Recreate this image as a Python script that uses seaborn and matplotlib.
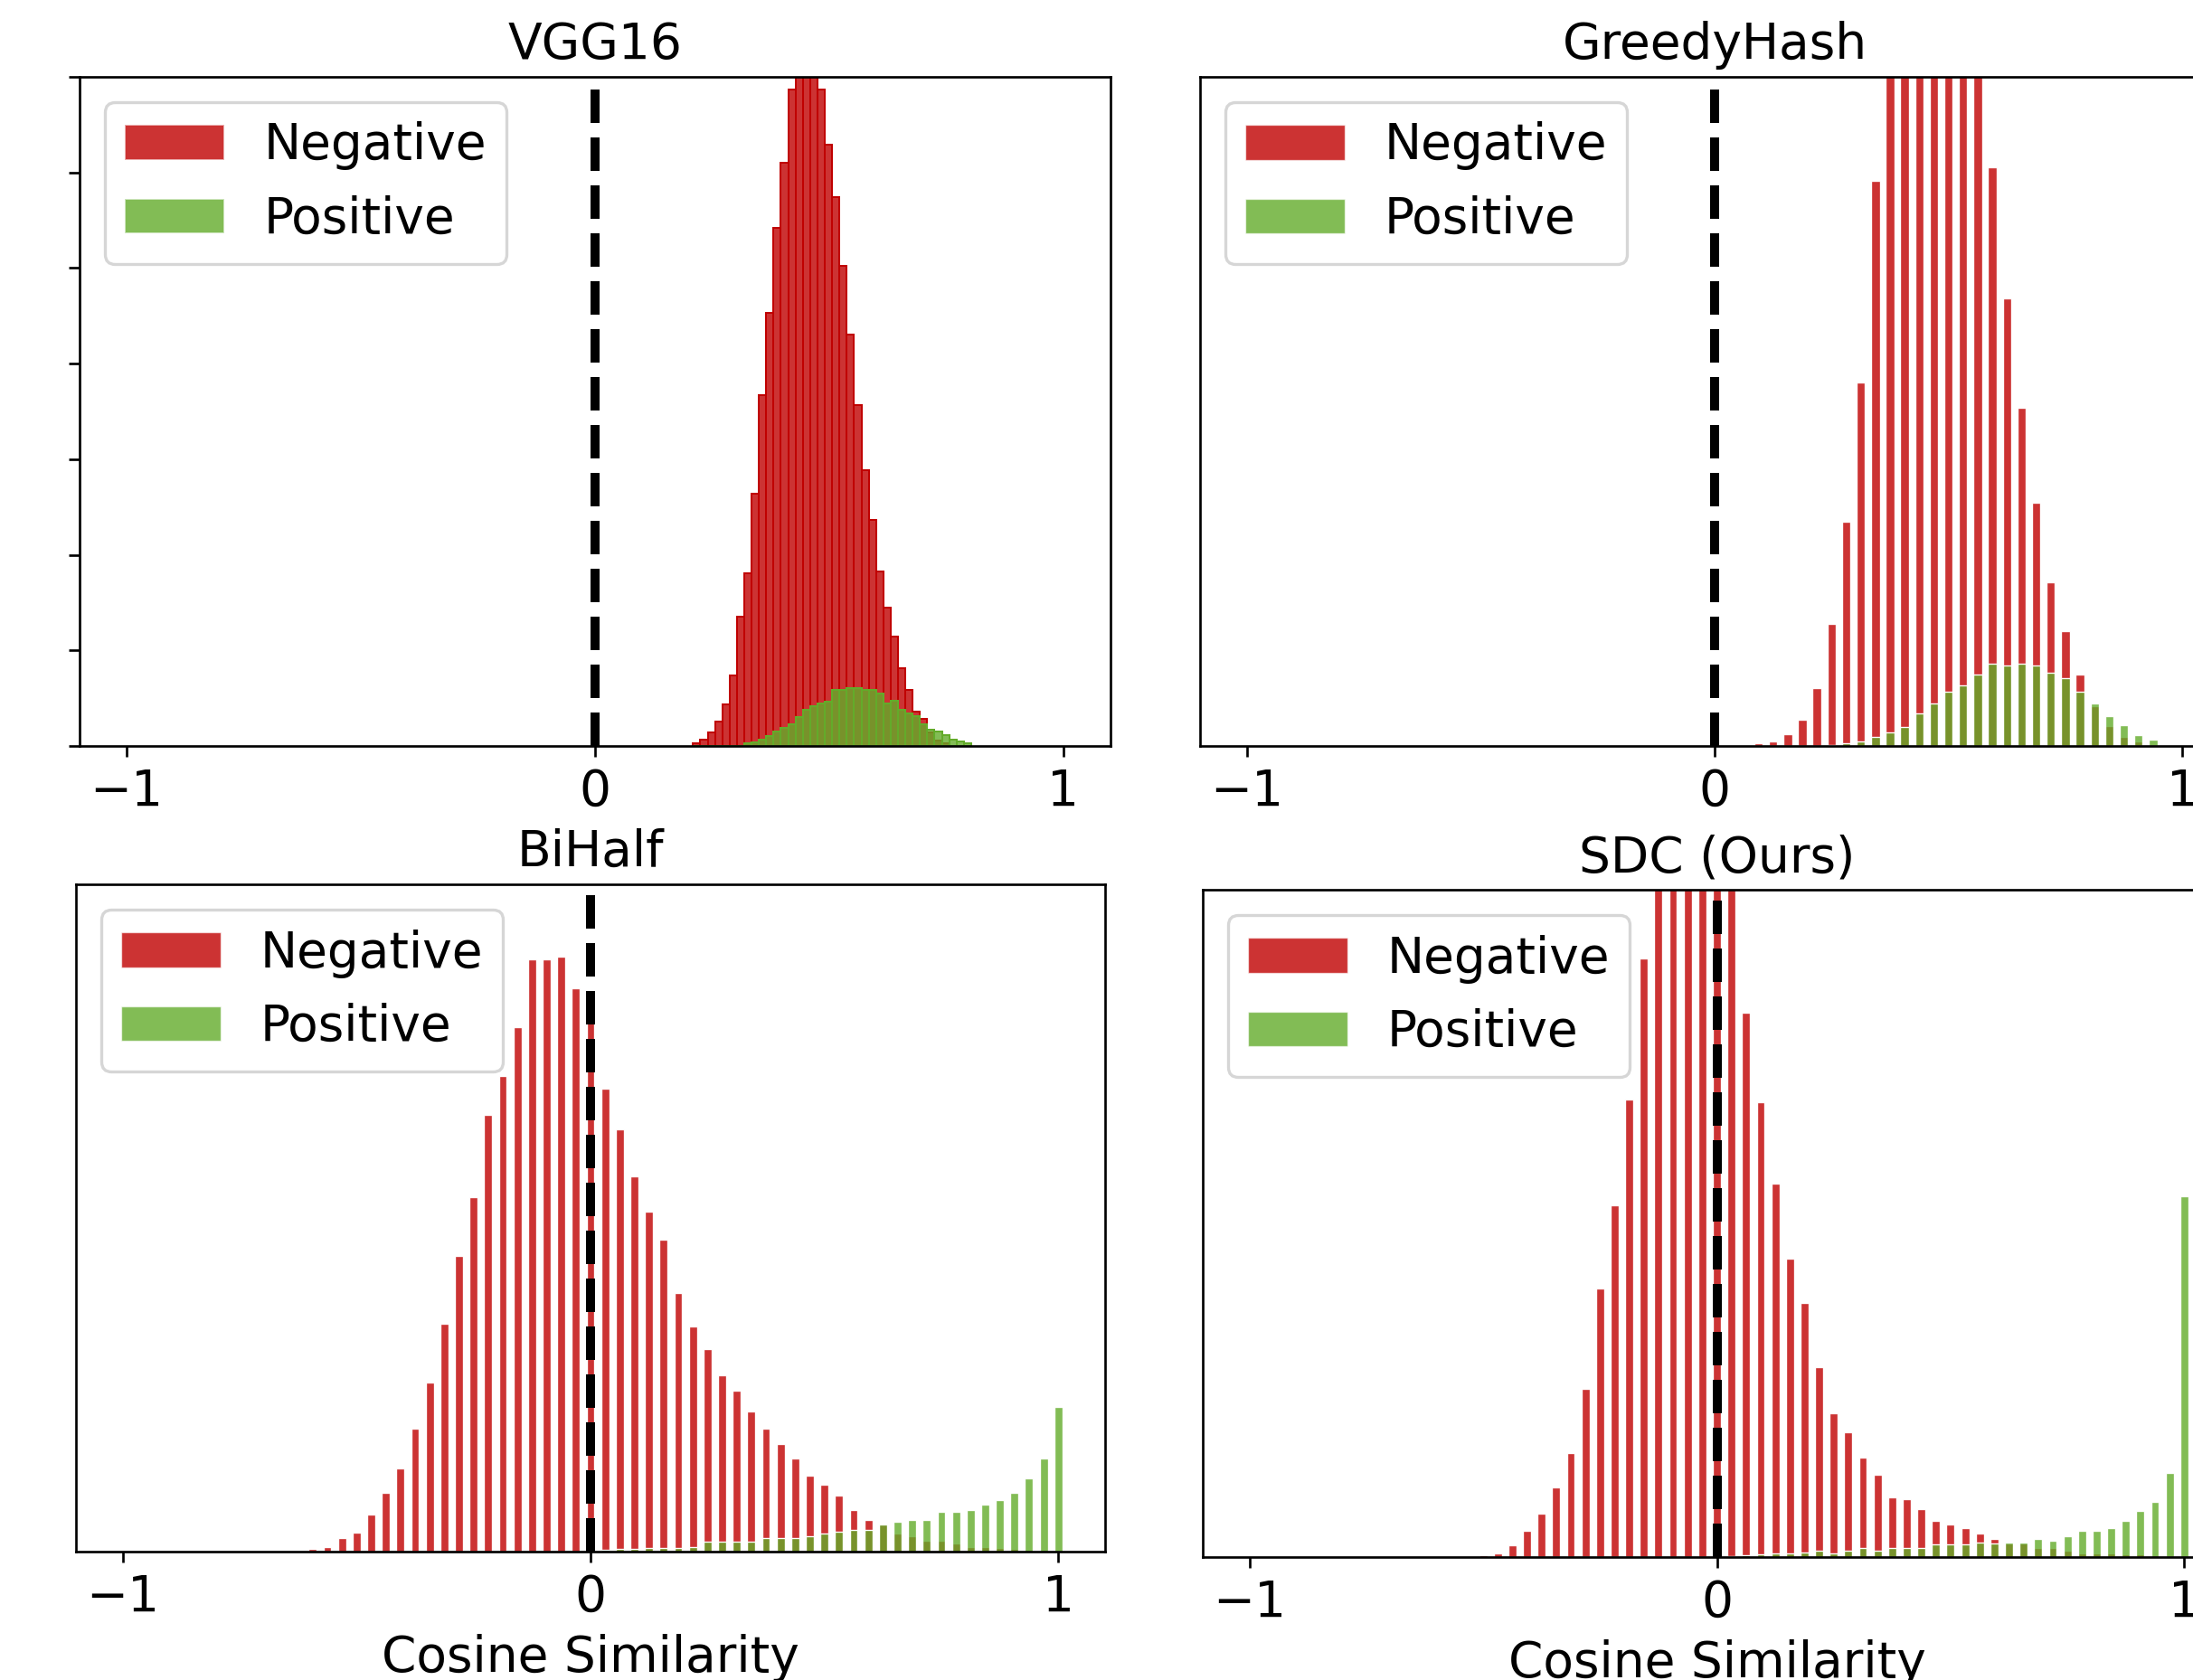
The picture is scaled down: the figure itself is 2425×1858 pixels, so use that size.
import numpy as np
import pandas as pd
import matplotlib.pyplot as plt
import seaborn as sns

W, H, DPI = 2425, 1858, 240
plt.rcParams['font.family'] = ['DejaVu Sans']
plt.rcParams['font.size'] = 16.5

NEG_COLOR = '#c00000'
POS_COLOR = '#63ab2a'

# VGG16: real valued features, histogram bins of width 1/64
vgg_start = 0.2097
vgg_width = 1 / 64
vgg_neg = [0.004, 0.010, 0.020, 0.036, 0.062, 0.106, 0.193, 0.258, 0.377, 0.524,
           0.647, 0.775, 0.872, 0.981, 1.06, 1.10, 1.05, 0.981, 0.898, 0.820,
           0.718, 0.615, 0.509, 0.412, 0.338, 0.261, 0.207, 0.164, 0.116, 0.084,
           0.051, 0.040, 0.020, 0.008, 0.004, 0.0, 0.0, 0.0]
vgg_pos = [0.0, 0.0, 0.0, 0.0, 0.0, 0.0, 0.0, 0.004, 0.006, 0.009,
           0.015, 0.022, 0.027, 0.033, 0.043, 0.054, 0.060, 0.064, 0.066, 0.084,
           0.084, 0.087, 0.087, 0.084, 0.084, 0.079, 0.064, 0.067, 0.054, 0.048,
           0.045, 0.032, 0.025, 0.022, 0.016, 0.010, 0.007, 0.004]

# 64 bit hash codes -> cosine similarity takes values k/32
greedy_k = np.arange(3, 31)
greedy_neg = [0.004, 0.007, 0.017, 0.039, 0.087, 0.183, 0.335, 0.543, 0.845, 1.15,
              1.40, 1.55, 1.60, 1.50, 1.35, 1.15, 0.865, 0.669, 0.505, 0.364,
              0.244, 0.171, 0.107, 0.059, 0.030, 0.014, 0.007, 0.0]
greedy_pos = [0.0, 0.0, 0.0, 0.0, 0.0, 0.002, 0.004, 0.007, 0.014, 0.020,
              0.029, 0.049, 0.063, 0.081, 0.090, 0.107, 0.123, 0.120, 0.123, 0.120,
              0.110, 0.101, 0.081, 0.064, 0.045, 0.031, 0.016, 0.010]

bihalf_k = np.arange(-19, 33)
bihalf_neg = [0.004, 0.007, 0.020, 0.029, 0.056, 0.088, 0.125, 0.184, 0.253, 0.341,
              0.443, 0.531, 0.654, 0.713, 0.786, 0.888, 0.888, 0.892, 0.844, 0.800,
              0.694, 0.633, 0.563, 0.509, 0.468, 0.388, 0.338, 0.304, 0.264, 0.241,
              0.210, 0.184, 0.161, 0.139, 0.114, 0.100, 0.084, 0.063, 0.048, 0.040,
              0.027, 0.023, 0.016, 0.016, 0.012, 0.007, 0.007, 0.005, 0.004, 0.003,
              0.003, 0.002]
bihalf_pos = [0.0] * 20 + [0.003, 0.004, 0.004, 0.005, 0.006, 0.006, 0.007,
              0.015, 0.015, 0.015, 0.015, 0.020, 0.020, 0.020, 0.023, 0.027, 0.030,
              0.033, 0.033, 0.041, 0.045, 0.048, 0.048, 0.060, 0.060, 0.063, 0.070,
              0.077, 0.088, 0.110, 0.139, 0.217]

sdc_k = np.arange(-16, 33)
sdc_neg = [0.003, 0.006, 0.017, 0.039, 0.065, 0.105, 0.156, 0.252, 0.402, 0.527,
           0.685, 0.897, 1.10, 1.25, 1.32, 1.32, 1.25, 1.10, 0.816, 0.681,
           0.560, 0.447, 0.381, 0.285, 0.215, 0.187, 0.149, 0.123, 0.090, 0.087,
           0.072, 0.054, 0.049, 0.043, 0.035, 0.027, 0.021, 0.021, 0.014, 0.014,
           0.010, 0.005, 0.005, 0.005, 0.004, 0.004, 0.003, 0.002, 0.002]
sdc_pos = [0.0] * 17 + [0.002, 0.003, 0.004, 0.005, 0.006, 0.007,
           0.010, 0.006, 0.010, 0.014, 0.010, 0.014, 0.014, 0.014, 0.019, 0.019,
           0.019, 0.022, 0.021, 0.022, 0.022, 0.027, 0.024, 0.031, 0.039, 0.039,
           0.043, 0.054, 0.069, 0.083, 0.126, 0.541]

hash_width = 1 / 32
hash_range = (-1 - hash_width / 2, 1 + hash_width / 2)


def draw_panel(ax, x, neg, pos, width, brange, title, shrink, neg_edge, pos_edge, lw):
    df = pd.DataFrame({'sim': np.asarray(x, dtype=float),
                       'neg': np.asarray(neg, dtype=float),
                       'pos': np.asarray(pos, dtype=float)})
    sns.histplot(data=df, x='sim', weights='neg', binwidth=width, binrange=brange,
                 color=NEG_COLOR, alpha=0.8, shrink=shrink, edgecolor=neg_edge,
                 linewidth=lw, label='Negative', ax=ax)
    sns.histplot(data=df, x='sim', weights='pos', binwidth=width, binrange=brange,
                 color=POS_COLOR, alpha=0.8, shrink=shrink, edgecolor=pos_edge,
                 linewidth=lw, label='Positive', ax=ax)
    ax.axvline(0, color='black', linestyle='--', linewidth=3, zorder=3)
    ax.set_xlim(-1.1, 1.1)
    ax.set_ylim(0, 1)
    ax.set_xticks([-1, 0, 1])
    ax.set_yticks([])
    ax.set_xlabel('')
    ax.set_ylabel('')
    ax.set_title(title, fontsize=16.5)
    leg = ax.legend(loc='upper left')
    for patch in leg.get_patches():
        patch.set_edgecolor((1, 1, 1, 0.6))


fig = plt.figure(figsize=(W / DPI, H / DPI), dpi=DPI)

# axes boxes in pixels (left, top, right, bottom); right column runs past the edge
boxes = {
    'tl': (88, 85, 1227.5, 825),
    'tr': (1327, 85, 2465, 825),
    'bl': (84, 978, 1222, 1716),
    'br': (1330, 984, 2467, 1722),
}
axs = {}
for name, (l, t, r, b) in boxes.items():
    axs[name] = fig.add_axes([l / W, (H - b) / H, (r - l) / W, (b - t) / H])

vgg_x = vgg_start + (np.arange(len(vgg_neg)) + 0.5) * vgg_width
vgg_range = (vgg_start, vgg_start + len(vgg_neg) * vgg_width)
draw_panel(axs['tl'], vgg_x, vgg_neg, vgg_pos, vgg_width, vgg_range, 'VGG16',
           1.0, NEG_COLOR, POS_COLOR, 0.6)
axs['tl'].set_yticks(np.linspace(0, 1, 8))
axs['tl'].set_yticklabels([])

draw_panel(axs['tr'], greedy_k / 32, greedy_neg, greedy_pos, hash_width, hash_range,
           'GreedyHash', 0.58, 'white', 'white', 0.4)
draw_panel(axs['bl'], bihalf_k / 32, bihalf_neg, bihalf_pos, hash_width, hash_range,
           'BiHalf', 0.55, 'white', 'white', 0.4)
draw_panel(axs['br'], sdc_k / 32, sdc_neg, sdc_pos, hash_width, hash_range,
           'SDC (Ours)', 0.55, 'white', 'white', 0.4)

axs['bl'].set_xlabel('Cosine Similarity')
axs['br'].set_xlabel('Cosine Similarity')

fig.savefig('out.png', dpi=DPI)
plt.close(fig)
